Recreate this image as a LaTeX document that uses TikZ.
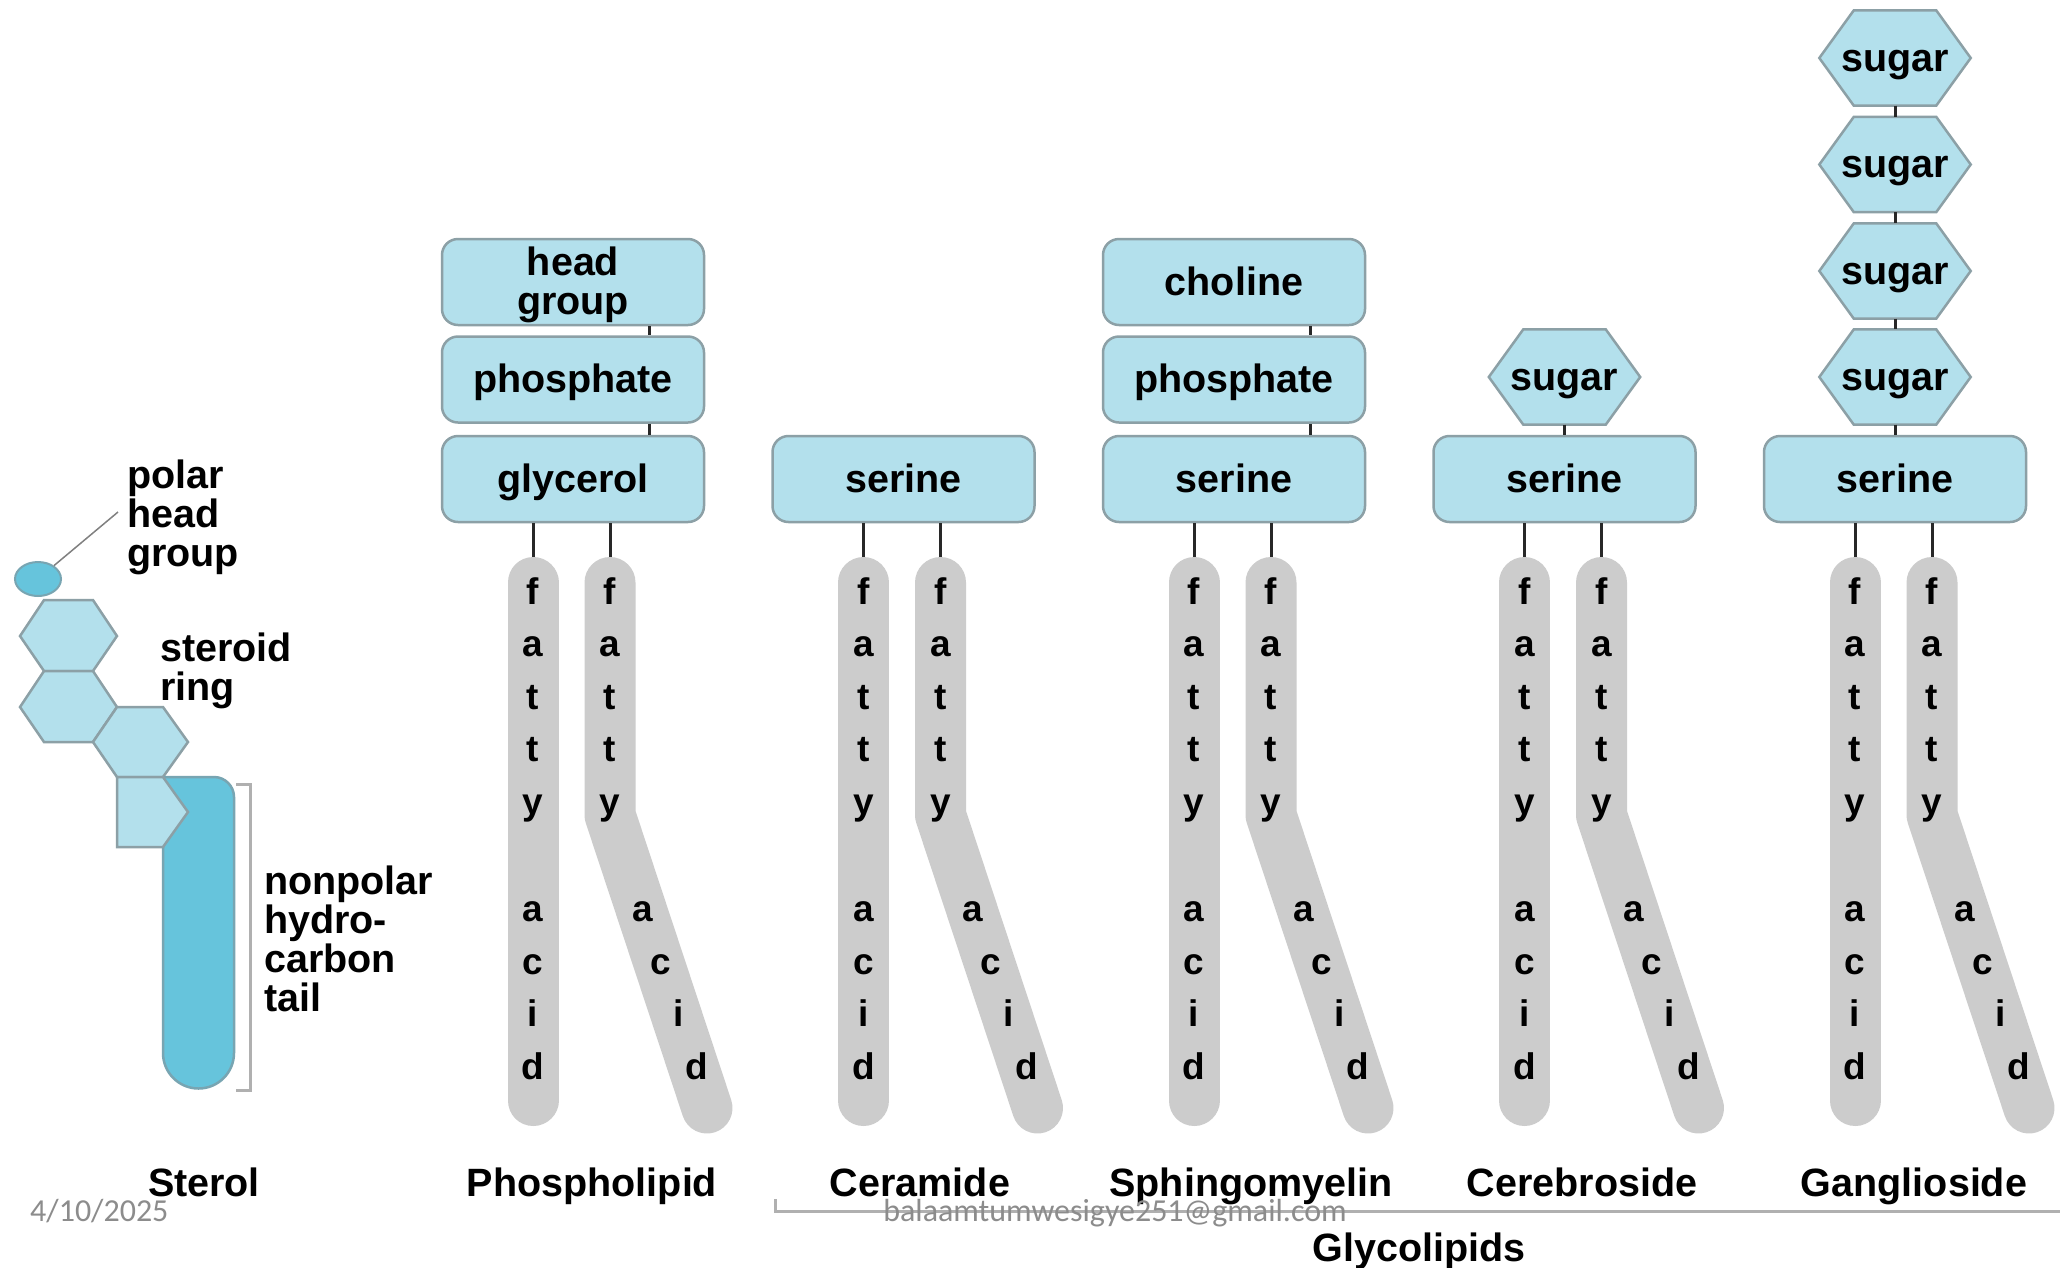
\documentclass[tikz,border=0pt]{standalone}
\usepackage{fontspec}
\setmainfont{Liberation Sans}
\newfontfamily\carlitofont{Carlito}
\usetikzlibrary{backgrounds,calc,shapes.geometric}
\definecolor{boxfill}{RGB}{179,224,236}
\definecolor{boxline}{RGB}{140,160,166}
\definecolor{tailfill}{RGB}{102,196,220}
\definecolor{tailline}{RGB}{120,165,178}
\definecolor{chaingray}{RGB}{204,204,204}
\definecolor{linkcol}{RGB}{40,40,40}
\definecolor{markgray}{RGB}{176,176,176}
\definecolor{wmgray}{RGB}{140,140,140}
\tikzset{
 big/.style={font=\fontsize{39.5}{39}\selectfont\bfseries},
 box/.style={big, draw=boxline, line width=2.5pt, fill=boxfill, rounded corners=16pt,
   minimum width=262pt, minimum height=86pt, inner sep=0pt, align=center,
   text height=26pt, text depth=0pt},
 sugarnode/.style={big, minimum width=151pt, minimum height=95pt, inner sep=0pt,
   text height=26pt, text depth=0pt},
 hexshape/.style={draw=boxline, line width=2.5pt, fill=boxfill, line join=miter},
 tailshape/.style={draw=tailline, line width=2.5pt, fill=tailfill},
 link/.style={draw=linkcol, line width=3pt},
 chainstyle/.style={draw=chaingray, line width=51pt, line cap=round, line join=round},
 letter/.style={font=\fontsize{37}{37}\selectfont\bfseries, anchor=base, inner sep=0pt},
 lipidname/.style={big, anchor=base, inner sep=0pt},
 note/.style={big, align=left, anchor=west, inner sep=0pt},
 markline/.style={draw=markgray, line width=3pt},
 leader/.style={draw=gray, line width=1.5pt},
 wm/.style={font=\carlitofont\fontsize{32}{32}\selectfont, text=wmgray, inner sep=0pt},
}
\newcommand\lipidchains[3]{%
 \coordinate (#1-lt) at ({#2-40},557);
 \coordinate (#1-la) at ({#2-40},582.5);
 \coordinate (#1-lb) at ({#2-40},1100.5);
 \coordinate (#1-rt) at ({#2+37},557);
 \coordinate (#1-ra) at ({#2+37},582.5);
 \coordinate (#1-rm) at ({#2+37},815);
 \coordinate (#1-rb) at ({#2+134},1108);
 \draw[link] (#3.south -| #1-lt) -- (#1-lt);
 \draw[link] (#3.south -| #1-rt) -- (#1-rt);
 \draw[chainstyle] (#1-la) -- (#1-lb);
 \draw[chainstyle] (#1-ra) -- (#1-rm) -- (#1-rb);
 \foreach \ch/\yy [count=\k] in {f/593,a/645,t/698,t/750,y/803,a/910,c/963,i/1015,d/1068}
   \node[letter] (#1-l\k) at ({#2-40},{\yy+11}) {\ch};
 \foreach \ch/\yy [count=\k] in {f/593,a/645,t/698,t/750,y/803}
   \node[letter] (#1-r\k) at ({#2+37},{\yy+11}) {\ch};
 \foreach \ch/\yy [count=\k from 6] in {a/910,c/963,i/1015,d/1068}
   \node[letter] (#1-r\k) at ({#2+37+(\yy-815)*0.343},{\yy+11}) {\ch};
}
\newcommand\sugarhex[1]{\draw[hexshape] (#1.west) -- ([xshift=34.5pt]#1.north west) -- ([xshift=-34.5pt]#1.north east) -- (#1.east) -- ([xshift=-34.5pt]#1.south east) -- ([xshift=34.5pt]#1.south west) -- cycle;}
\begin{document}
\begin{tikzpicture}[x=1pt,y=-1pt]
\useasboundingbox (0,0) rectangle (2060,1267);

% ---------- Sterol ----------
\draw[hexshape] (20,636) -- (44,600) -- (93,600) -- (117,636) -- (93,671) -- (44,671) -- cycle;
\draw[hexshape] (20,707) -- (44,671) -- (93,671) -- (117,707) -- (93,742) -- (44,742) -- cycle;
\draw[hexshape] (93,742) -- (117,707) -- (163,707) -- (188,742) -- (163,777) -- (117,777) -- cycle;
\draw[tailshape] (163,777) -- (214,777) .. controls (225,777) and (234,786) .. (234,797) -- (234,1053)
   .. controls (234,1072.6) and (218.1,1088.5) .. (198.5,1088.5)
   .. controls (178.9,1088.5) and (163,1072.6) .. (163,1053) -- cycle;
\draw[hexshape] (117,777) -- (163,777) -- (188,812) -- (163,847) -- (117,847) -- cycle;
\node[ellipse, draw=tailline, line width=2pt, fill=tailfill, minimum width=46pt, minimum height=34pt, inner sep=0pt] (head) at (38,579) {};
\node[note] (polar) at (127,517) {polar\\head\\group};
\node[note] (steroid) at (160,671) {steroid\\ring};
\node[note] (nonpolar) at (264,939) {nonpolar\\hydro-\\carbon\\tail};
\coordinate (leadend) at (118,512);
\draw[leader] (head.40) -- (leadend);
\draw[markline] (236,784) -- (250,784) -- (250,1090) -- (236,1090);

% ---------- Phospholipid ----------
\node[box, text height=65.5pt] (pl-hg) at (573,282) {head\\group};
\node[box] (pl-ph) at (573,379.5) {phosphate};
\node[box] (pl-gl) at (573,479) {glycerol};
\draw[link] ([xshift=76pt]pl-hg.south) -- ([xshift=76pt]pl-ph.north);
\draw[link] ([xshift=76pt]pl-ph.south) -- ([xshift=76pt]pl-gl.north);
\lipidchains{pl}{573}{pl-gl}

% ---------- Ceramide ----------
\node[box] (cr-se) at (903.5,479) {serine};
\lipidchains{cr}{903.5}{cr-se}

% ---------- Sphingomyelin ----------
\node[box] (sm-ch) at (1234,282) {choline};
\node[box] (sm-ph) at (1234,379.5) {phosphate};
\node[box] (sm-se) at (1234,479) {serine};
\draw[link] ([xshift=76pt]sm-ch.south) -- ([xshift=76pt]sm-ph.north);
\draw[link] ([xshift=76pt]sm-ph.south) -- ([xshift=76pt]sm-se.north);
\lipidchains{sm}{1234}{sm-se}

% ---------- Cerebroside ----------
\node[box] (cb-se) at (1564.5,479) {serine};
\node[sugarnode] (cb-s1) at (1564.5,377) {sugar};
\draw[link] (cb-s1.south) -- (cb-se.north);
\lipidchains{cb}{1564.5}{cb-se}

% ---------- Ganglioside ----------
\node[box] (gg-se) at (1895,479) {serine};
\node[sugarnode] (gg-s1) at (1895,58) {sugar};
\node[sugarnode] (gg-s2) at (1895,164.5) {sugar};
\node[sugarnode] (gg-s3) at (1895,271) {sugar};
\node[sugarnode] (gg-s4) at (1895,377) {sugar};
\draw[link] (gg-s1.south) -- (gg-s2.north);
\draw[link] (gg-s2.south) -- (gg-s3.north);
\draw[link] (gg-s3.south) -- (gg-s4.north);
\draw[link] (gg-s4.south) -- (gg-se.north);
\lipidchains{gg}{1895}{gg-se}

\begin{pgfonlayer}{background}
\fill[white] (0,0) rectangle (2060,1267);
\sugarhex{cb-s1}
\sugarhex{gg-s1}
\sugarhex{gg-s2}
\sugarhex{gg-s3}
\sugarhex{gg-s4}
\end{pgfonlayer}

% ---------- Labels ----------
\coordinate (gbstart) at (775,1199);
\coordinate (gbend) at (2060,1211);
\draw[markline] (gbstart) -- (775,1211) -- (gbend);
\node[lipidname] (n-sterol) at (204,1196) {Sterol};
\node[lipidname] (n-phos) at (592,1196) {Phospholipid};
\node[lipidname] (n-cer) at (920,1196) {Ceramide};
\node[lipidname] (n-sph) at (1251,1196) {Sphingomyelin};
\node[lipidname] (n-cb) at (1582,1196) {Cerebroside};
\node[lipidname] (n-gg) at (1914,1196) {Ganglioside};
\node[lipidname] (n-glyco) at (1419,1261) {Glycolipids};
\node[wm, anchor=base west] (date) at (30,1221) {4/10/2025};
\node[wm, anchor=base] (mail) at (1115,1221) {balaamtumwesigye251@gmail.com};
\end{tikzpicture}
\end{document}
